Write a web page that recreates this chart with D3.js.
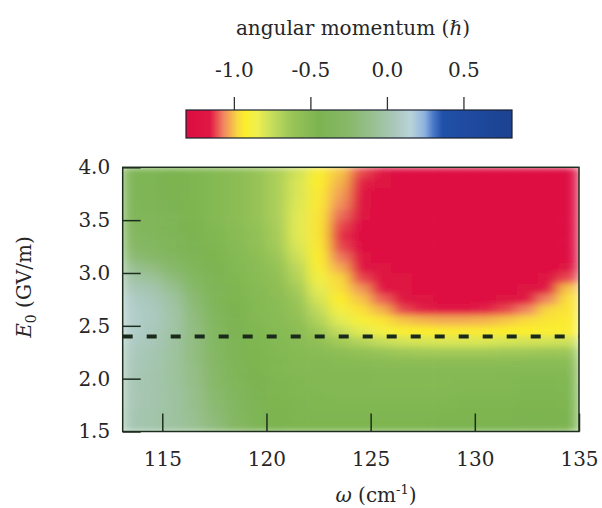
<!DOCTYPE html>
<html>
<head>
<meta charset="utf-8">
<script src="https://cdn.jsdelivr.net/npm/d3@7"></script>
<style>
body { margin: 0; background: #fff; }
text { font-family: "DejaVu Serif", serif; fill: #262626; }
</style>
</head>
<body>
<div id="chart"></div>
<script>
// cell centres
var omega = [113.5, 114.5, 115.5, 116.5, 117.5, 118.5, 119.5, 120.5, 121.5, 122.5, 123.5,
             124.5, 125.5, 126.5, 127.5, 128.5, 129.5, 130.5, 131.5, 132.5, 133.5, 134.5];
var e0 = [3.95, 3.85, 3.75, 3.65, 3.55, 3.45, 3.35, 3.25, 3.15, 3.05, 2.95, 2.85, 2.75,
          2.65, 2.55, 2.45, 2.35, 2.25, 2.15, 2.05, 1.95, 1.85, 1.75, 1.65, 1.55];

// angular momentum, one row per E0 (top to bottom), one value per omega
var momentum = [
  [-0.40,-0.42,-0.45,-0.47,-0.50,-0.54,-0.60,-0.68,-0.78,-0.92,-1.00,-1.12,-1.22,-1.25,-1.25,-1.25,-1.25,-1.25,-1.25,-1.25,-1.25,-1.25],
  [-0.40,-0.42,-0.45,-0.47,-0.50,-0.54,-0.60,-0.68,-0.80,-0.93,-1.02,-1.15,-1.24,-1.25,-1.25,-1.25,-1.25,-1.25,-1.25,-1.25,-1.25,-1.25],
  [-0.39,-0.41,-0.44,-0.47,-0.50,-0.54,-0.60,-0.68,-0.80,-0.94,-1.04,-1.18,-1.25,-1.25,-1.25,-1.25,-1.25,-1.25,-1.25,-1.25,-1.25,-1.25],
  [-0.38,-0.40,-0.43,-0.46,-0.50,-0.54,-0.60,-0.68,-0.81,-0.94,-1.06,-1.22,-1.25,-1.25,-1.25,-1.25,-1.25,-1.25,-1.25,-1.25,-1.25,-1.25],
  [-0.36,-0.39,-0.42,-0.46,-0.50,-0.54,-0.60,-0.68,-0.82,-0.95,-1.09,-1.24,-1.25,-1.25,-1.25,-1.25,-1.25,-1.25,-1.25,-1.25,-1.25,-1.25],
  [-0.34,-0.37,-0.41,-0.45,-0.49,-0.53,-0.59,-0.67,-0.82,-0.95,-1.12,-1.25,-1.25,-1.25,-1.25,-1.25,-1.25,-1.25,-1.25,-1.25,-1.25,-1.25],
  [-0.31,-0.35,-0.40,-0.44,-0.48,-0.52,-0.58,-0.66,-0.82,-0.95,-1.14,-1.25,-1.25,-1.25,-1.25,-1.25,-1.25,-1.25,-1.25,-1.25,-1.25,-1.25],
  [-0.27,-0.32,-0.38,-0.43,-0.47,-0.51,-0.57,-0.65,-0.80,-0.94,-1.12,-1.25,-1.25,-1.25,-1.25,-1.25,-1.25,-1.25,-1.25,-1.25,-1.25,-1.25],
  [-0.20,-0.26,-0.33,-0.40,-0.46,-0.50,-0.55,-0.63,-0.77,-0.93,-1.08,-1.22,-1.25,-1.25,-1.25,-1.25,-1.25,-1.25,-1.25,-1.25,-1.25,-1.25],
  [-0.10,-0.16,-0.26,-0.36,-0.44,-0.49,-0.53,-0.60,-0.73,-0.91,-1.03,-1.18,-1.24,-1.25,-1.25,-1.25,-1.25,-1.25,-1.25,-1.25,-1.25,-1.24],
  [-0.02,-0.07,-0.18,-0.31,-0.42,-0.48,-0.52,-0.58,-0.70,-0.88,-0.98,-1.12,-1.20,-1.24,-1.25,-1.25,-1.25,-1.25,-1.25,-1.25,-1.22,-1.12],
  [ 0.04, 0.00,-0.10,-0.26,-0.40,-0.47,-0.51,-0.56,-0.66,-0.83,-0.96,-1.05,-1.16,-1.22,-1.25,-1.25,-1.25,-1.25,-1.25,-1.24,-1.17,-1.00],
  [ 0.08, 0.04,-0.05,-0.22,-0.38,-0.46,-0.50,-0.54,-0.63,-0.79,-0.93,-1.00,-1.10,-1.20,-1.24,-1.25,-1.25,-1.25,-1.24,-1.18,-1.07,-0.96],
  [ 0.10, 0.06,-0.03,-0.19,-0.36,-0.45,-0.50,-0.53,-0.60,-0.74,-0.88,-0.96,-1.02,-1.12,-1.15,-1.16,-1.16,-1.15,-1.12,-1.07,-0.98,-0.95],
  [ 0.10, 0.06,-0.02,-0.17,-0.34,-0.44,-0.49,-0.52,-0.57,-0.69,-0.82,-0.90,-0.95,-1.00,-1.02,-1.03,-1.03,-1.02,-1.00,-0.97,-0.95,-0.94],
  [ 0.10, 0.05,-0.03,-0.16,-0.32,-0.43,-0.48,-0.51,-0.55,-0.64,-0.75,-0.82,-0.88,-0.92,-0.93,-0.94,-0.94,-0.94,-0.93,-0.93,-0.92,-0.92],
  [ 0.08, 0.04,-0.04,-0.16,-0.31,-0.42,-0.47,-0.50,-0.53,-0.58,-0.65,-0.70,-0.75,-0.78,-0.79,-0.80,-0.80,-0.80,-0.79,-0.78,-0.78,-0.77],
  [ 0.06, 0.02,-0.05,-0.16,-0.30,-0.41,-0.46,-0.49,-0.51,-0.53,-0.56,-0.59,-0.62,-0.64,-0.65,-0.65,-0.65,-0.65,-0.64,-0.64,-0.63,-0.63],
  [ 0.05, 0.01,-0.05,-0.15,-0.29,-0.40,-0.46,-0.48,-0.50,-0.50,-0.51,-0.52,-0.53,-0.54,-0.54,-0.54,-0.54,-0.54,-0.54,-0.53,-0.53,-0.53],
  [ 0.04, 0.00,-0.05,-0.14,-0.27,-0.39,-0.45,-0.48,-0.49,-0.49,-0.49,-0.49,-0.50,-0.50,-0.50,-0.50,-0.50,-0.50,-0.49,-0.49,-0.49,-0.49],
  [ 0.03, 0.00,-0.05,-0.13,-0.26,-0.37,-0.44,-0.47,-0.48,-0.49,-0.49,-0.49,-0.50,-0.50,-0.50,-0.50,-0.49,-0.49,-0.49,-0.48,-0.48,-0.48],
  [ 0.03, 0.00,-0.04,-0.12,-0.24,-0.35,-0.43,-0.46,-0.48,-0.48,-0.49,-0.49,-0.49,-0.49,-0.49,-0.49,-0.48,-0.48,-0.48,-0.47,-0.47,-0.47],
  [ 0.03, 0.00,-0.04,-0.11,-0.22,-0.33,-0.42,-0.46,-0.47,-0.48,-0.48,-0.48,-0.48,-0.48,-0.48,-0.48,-0.47,-0.47,-0.47,-0.46,-0.46,-0.46],
  [ 0.02,-0.01,-0.04,-0.10,-0.20,-0.32,-0.41,-0.45,-0.47,-0.47,-0.47,-0.47,-0.47,-0.47,-0.47,-0.46,-0.46,-0.46,-0.46,-0.45,-0.45,-0.45],
  [ 0.02,-0.01,-0.04,-0.09,-0.18,-0.30,-0.40,-0.45,-0.46,-0.46,-0.46,-0.46,-0.46,-0.46,-0.46,-0.45,-0.45,-0.45,-0.45,-0.44,-0.44,-0.44]
];

var xTicks = [115, 120, 125, 130, 135];
var yTicks = [1.5, 2.0, 2.5, 3.0, 3.5, 4.0];
var cbTicks = [-1.0, -0.5, 0.0, 0.5];
var cbStops  = [-1.32, -1.16, -1.07, -0.98, -0.93, -0.85, -0.75, -0.62, -0.45, -0.25, -0.10, 0.05, 0.15, 0.24, 0.30, 0.36, 0.82];
var cbColors = ["#dc0c40", "#e01844", "#f08860", "#f8d840", "#fcee2c", "#eef050", "#c4dc5c", "#98c458",
                "#7cb450", "#88b86a", "#98c090", "#aac8bc", "#b8d4d8", "#90b4e0", "#4a78c8", "#2050a8", "#1c4290"];
var dashE0 = 2.4;

const width = 602, height = 508;

var x = d3.scaleLinear().domain([113.1, 135]).range([122.7, 579]);
var y = d3.scaleLinear().domain([1.5, 4.0]).range([431.5, 167.3]);
var color = d3.scaleLinear().domain(cbStops).range(cbColors).clamp(true);
var cb = d3.scaleLinear().domain([-1.316, 0.814]).range([186, 512]);

var svg = d3.select("#chart").append("svg")
    .attr("width", width)
    .attr("height", height);

var defs = svg.append("defs");
var px0 = x.range()[0], px1 = x.range()[1], py0 = y.range()[1], py1 = y.range()[0];

defs.append("clipPath").attr("id", "plotclip")
  .append("rect")
    .attr("x", px0).attr("y", py0)
    .attr("width", px1 - px0).attr("height", py1 - py0);

var blur = defs.append("filter").attr("id", "soft")
    .attr("filterUnits", "userSpaceOnUse")
    .attr("x", px0).attr("y", py0)
    .attr("width", px1 - px0).attr("height", py1 - py0);
blur.append("feGaussianBlur").attr("stdDeviation", "7 3").attr("edgeMode", "duplicate");

// heatmap
var cells = [];
momentum.forEach((row, i) => row.forEach((v, j) => cells.push({w: omega[j], e: e0[i], v: v})));

svg.append("g").attr("clip-path", "url(#plotclip)")
  .append("g").attr("filter", "url(#soft)")
  .selectAll("rect")
  .data(cells)
  .enter().append("rect")
    .attr("x", d => x(d.w - 0.5))
    .attr("y", d => y(d.e + 0.05))
    .attr("width", d => x(d.w + 0.5) - x(d.w - 0.5) + 0.6)
    .attr("height", d => y(d.e - 0.05) - y(d.e + 0.05) + 0.6)
    .attr("fill", d => color(d.v));

// dashed reference line
svg.append("line")
    .attr("x1", x(113.1)).attr("x2", x(135))
    .attr("y1", y(dashE0)).attr("y2", y(dashE0))
    .attr("stroke", "#1a2a1a")
    .attr("stroke-width", 4)
    .attr("stroke-dasharray", "10,14")
    .attr("clip-path", "url(#plotclip)");

// axes, ticks pointing inwards
var xAxis = svg.append("g")
    .attr("transform", "translate(0," + py1 + ")")
    .call(d3.axisBottom(x).tickValues(xTicks).tickSizeInner(-18).tickSizeOuter(0).tickPadding(20));
var yAxis = svg.append("g")
    .attr("transform", "translate(" + px0 + ",0)")
    .call(d3.axisLeft(y).tickValues(yTicks).tickFormat(d3.format(".1f")).tickSizeInner(-18).tickSizeOuter(0).tickPadding(12.5));

[xAxis, yAxis].forEach(a => {
  a.select(".domain").remove();
  a.selectAll(".tick line").attr("stroke", "#1e2e1e").attr("stroke-width", 1.5);
  a.selectAll(".tick text").style("font-family", "'DejaVu Serif', serif").style("font-size", "20px").attr("fill", "#262626");
});

svg.append("rect")
    .attr("x", px0).attr("y", py0)
    .attr("width", px1 - px0).attr("height", py1 - py0)
    .attr("fill", "none")
    .attr("stroke", "#1e2e1e")
    .attr("stroke-width", 1.5);

// axis titles
var xt = svg.append("text")
    .attr("x", 376).attr("y", 502)
    .attr("text-anchor", "middle")
    .style("font-size", "20px");
xt.append("tspan").style("font-style", "italic").text("ω");
xt.append("tspan").text(" (cm");
xt.append("tspan").attr("dy", -8).style("font-size", "13px").text("-1");
xt.append("tspan").attr("dy", 8).text(")");

var yt = svg.append("text")
    .attr("transform", "translate(31,287) rotate(-90)")
    .attr("text-anchor", "middle")
    .style("font-size", "20px");
yt.append("tspan").style("font-style", "italic").text("E");
yt.append("tspan").attr("dy", 5).style("font-size", "14px").text("0");
yt.append("tspan").attr("dy", -5).text(" (GV/m)");

// colour bar
var grad = defs.append("linearGradient").attr("id", "cbgrad")
    .attr("gradientUnits", "userSpaceOnUse")
    .attr("x1", cb.range()[0]).attr("x2", cb.range()[1])
    .attr("y1", 0).attr("y2", 0);
grad.selectAll("stop")
  .data(cbStops)
  .enter().append("stop")
    .attr("offset", d => Math.max(0, Math.min(1, (cb(d) - cb.range()[0]) / (cb.range()[1] - cb.range()[0]))))
    .attr("stop-color", (d, i) => cbColors[i]);

svg.append("rect")
    .attr("x", cb.range()[0]).attr("y", 110)
    .attr("width", cb.range()[1] - cb.range()[0]).attr("height", 28)
    .attr("fill", "url(#cbgrad)")
    .attr("stroke", "#1a2030")
    .attr("stroke-width", 1.2);

svg.append("g").selectAll("line")
  .data(cbTicks)
  .enter().append("line")
    .attr("x1", d => cb(d)).attr("x2", d => cb(d))
    .attr("y1", 97).attr("y2", 110)
    .attr("stroke", "#333").attr("stroke-width", 1.3);

svg.append("g").selectAll("text")
  .data(cbTicks)
  .enter().append("text")
    .attr("x", d => cb(d)).attr("y", 77)
    .attr("text-anchor", "middle")
    .style("font-size", "20px")
    .text(d => d.toFixed(1));

var ct = svg.append("text")
    .attr("x", 353).attr("y", 35)
    .attr("text-anchor", "middle")
    .style("font-size", "20px");
ct.append("tspan").text("angular momentum (");
ct.append("tspan").style("font-style", "italic").text("ℏ");
ct.append("tspan").text(")");
</script>
</body>
</html>
